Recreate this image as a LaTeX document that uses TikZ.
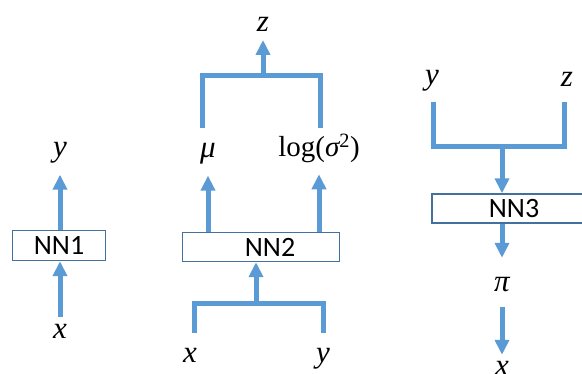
\documentclass[tikz,border=0pt]{standalone}
\usepackage{fontspec}
\setmainfont{Liberation Serif}[ItalicFont={Liberation Serif Italic}]
\newfontfamily\tmsit{Liberation Serif Italic}
\newfontfamily\nnfont{Carlito}
\usetikzlibrary{arrows.meta}
\definecolor{arrblue}{HTML}{5B9BD5}
\definecolor{boxblue}{HTML}{41719C}
\begin{document}
\begin{tikzpicture}[x=1pt,y=-1pt,
  nnbox/.style={draw=boxblue, line width=1.4pt, fill=white, inner sep=0pt,
    font=\nnfont\fontsize{28}{30}\selectfont},
  lab/.style={inner sep=0pt, outer sep=0pt, anchor=base,
    font=\tmsit\fontsize{31}{34}\selectfont},
  arr/.style={draw=arrblue, line width=5pt, -{Triangle[width=14pt,length=15pt]}},
  brk/.style={draw=arrblue, line width=5pt, line join=miter}]
\useasboundingbox (0,0) rectangle (582,374);
\clip (0,0) rectangle (582,374);

% ---------- panel 1 ----------
\node[nnbox, minimum width=93pt, minimum height=30pt] (nn1) at (59,245.5) {NN1};
\node[lab] (n1x) at (60,339) {x};
\node[lab] (n1y) at (60,157) {y};
\draw[arr, shorten <=8pt] (n1x.north) -- (n1x.north |- nn1.south);
\draw[arr, shorten >=11pt] (n1y.south |- nn1.north) -- (n1y.south);

% ---------- panel 2 ----------
\node[nnbox, minimum width=157pt, minimum height=29pt] (nn2) at (261,247) {\hspace*{18pt}NN2};
\node[lab] (n2z) at (263,32) {z};
\node[lab] (n2mu) at (208,158) {μ};
\node[lab, font=\rmfamily\upshape\fontsize{29}{32}\selectfont] (n2sig) at (319,157) {log({\tmsit σ}\textsuperscript{2})};
\node[lab] (n2x) at (190,363) {x};
\node[lab] (n2y) at (323,363) {y};

\coordinate (b2l) at (202,128);
\coordinate (b2m) at (263,76);
\coordinate (b2r) at (320,128);
\draw[brk] (b2l) -- (b2l |- b2m) -- (b2r |- b2m) -- (b2r);
\draw[arr, shorten >=8pt] (b2m) -- (b2m |- n2z.south);

\draw[arr, shorten >=11pt] (n2mu.south |- nn2.north) -- (n2mu.south);
\draw[arr, shorten >=11pt] (n2sig.south |- nn2.north) -- (n2sig.south);

\coordinate (b2bl) at (194,333);
\coordinate (b2bm) at (256,304);
\coordinate (b2br) at (323,333);
\draw[brk] (b2bl) -- (b2bl |- b2bm) -- (b2br |- b2bm) -- (b2br);
\draw[arr] (b2bm) -- (b2bm |- nn2.south);

% ---------- panel 3 ----------
\node[nnbox, minimum width=164pt, minimum height=29pt] (nn3) at (514,208.5) {NN3};
\node[lab] (n3y) at (432,85) {y};
\node[lab] (n3z) at (567,87) {z};
\node[lab] (n3pi) at (502,292) {π};
\node[lab] (n3x) at (502,376) {x};

\coordinate (b3l) at (433,102);
\coordinate (b3m) at (502,147);
\coordinate (b3r) at (564,102);
\draw[brk] (b3l) -- (b3l |- b3m) -- (b3r |- b3m) -- (b3r);
\draw[arr] (b3m) -- (b3m |- nn3.north);
\draw[arr, shorten >=20pt] (n3pi.north |- nn3.south) -- (n3pi.north);
\draw[arr, shorten <=15pt, shorten >=7pt] (n3pi.south) -- (n3x.north);
\end{tikzpicture}
\end{document}
